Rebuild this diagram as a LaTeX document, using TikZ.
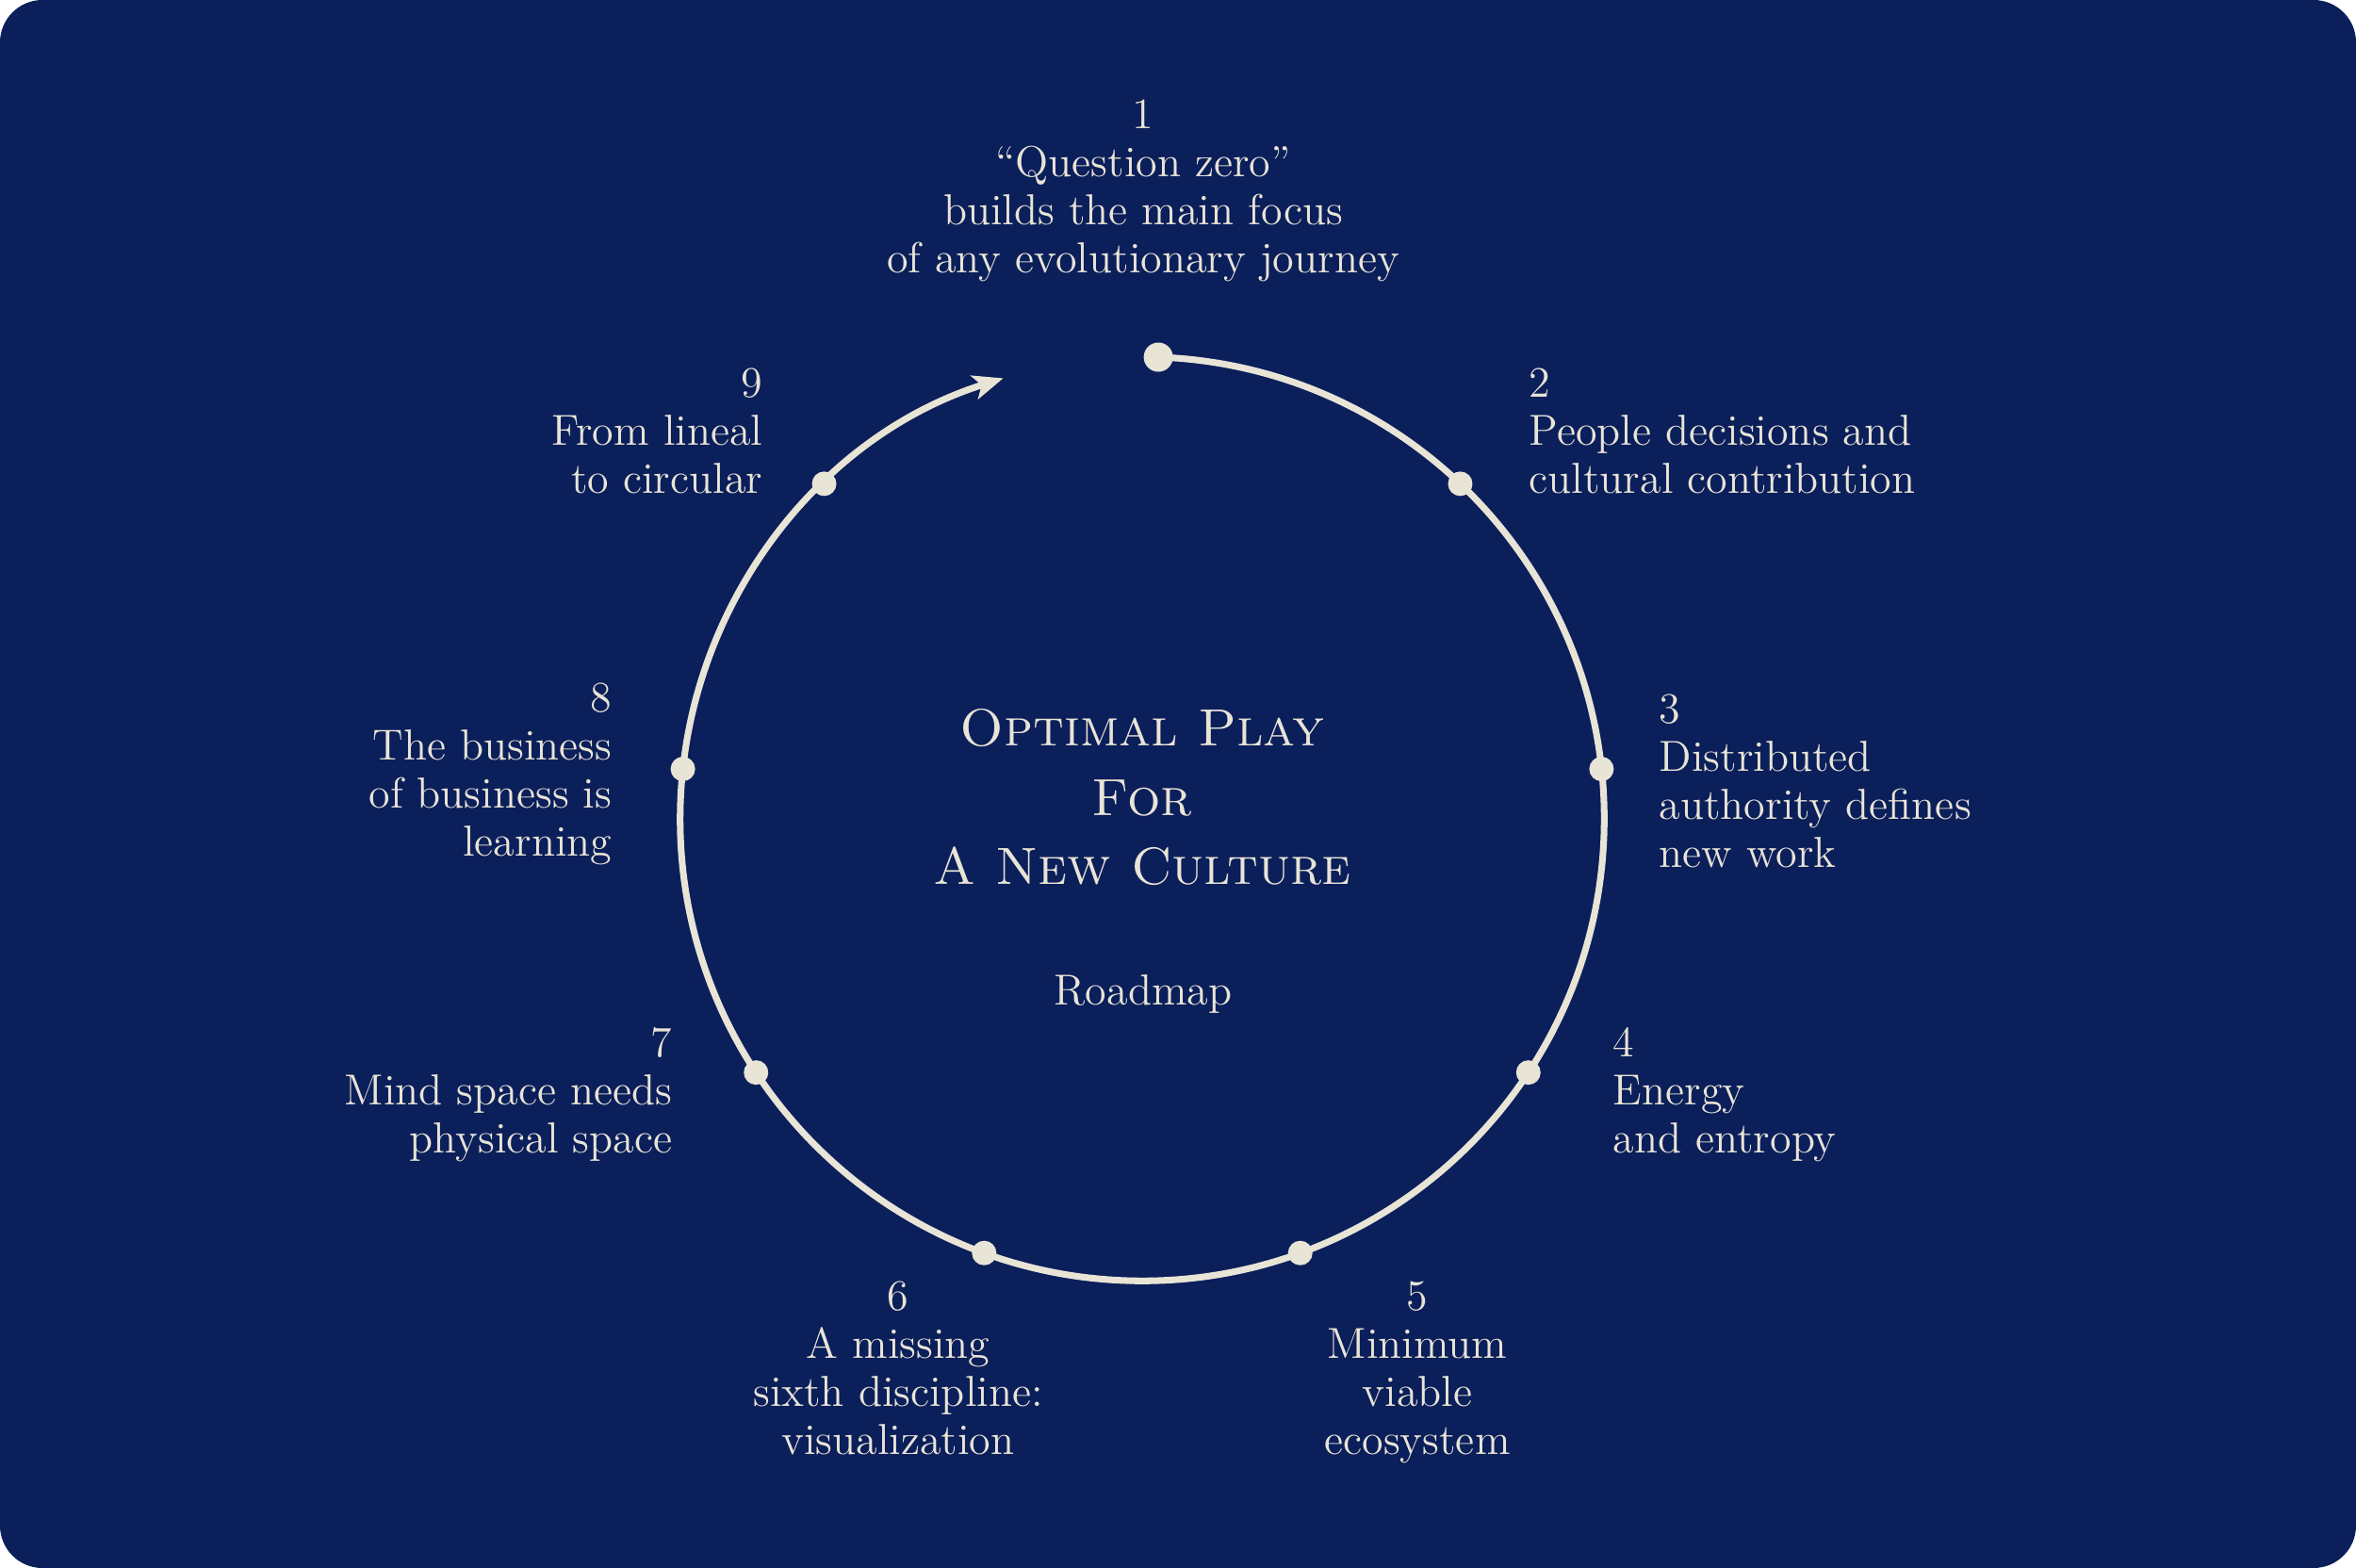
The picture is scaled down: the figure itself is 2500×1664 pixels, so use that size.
\documentclass[tikz,border=0pt]{standalone}
\usetikzlibrary{arrows.meta,calc}
\definecolor{navy}{RGB}{11,31,91}
\definecolor{cream}{RGB}{232,228,214}
\begin{document}
\begin{tikzpicture}[x=0.01cm,y=-0.01cm,
  lbl/.style={text=cream, inner sep=0pt, font=\fontsize{13.1}{14.5}\selectfont},
  ttl/.style={text=cream, inner sep=0pt, align=center, font=\fontsize{15.8}{20.8}\selectfont\scshape},
  ring/.style={draw=cream, line width=2pt},
  dot/.style={circle, fill=cream, inner sep=0pt, minimum size=0.26cm},
  bigdot/.style={dot, minimum size=0.31cm}]
\fill[white] (0,0) rectangle (2500,1664);
\fill[navy, rounded corners=0.45cm] (0,0) rectangle (2500,1664);
\useasboundingbox (0,0) rectangle (2500,1664);
\coordinate (c) at (1212,869);
% ring with arrow
\node[bigdot] (d1) at ($(c)+(88:4.9cm)$) {};
\draw[ring, -{Stealth[length=0.32cm, width=0.26cm, inset=0.08cm]}] (d1.center) arc[start angle=88, end angle=-252.5, radius=4.9cm] coordinate (aend);
\node[dot] (d2) at ($(c)+(46.5:4.9cm)$) {};
\node[dot] (d3) at ($(c)+(6.2:4.9cm)$) {};
\node[dot] (d4) at ($(c)+(-33.3:4.9cm)$) {};
\node[dot] (d5) at ($(c)+(-70:4.9cm)$) {};
\node[dot] (d6) at ($(c)+(-110:4.9cm)$) {};
\node[dot] (d7) at ($(c)+(-146.7:4.9cm)$) {};
\node[dot] (d8) at ($(c)+(173.8:4.9cm)$) {};
\node[dot] (d9) at ($(c)+(133.5:4.9cm)$) {};
% labels
\node[lbl, anchor=north, align=center] (l1) at (1213,105) {1\\``Question zero''\\builds the main focus\\of any evolutionary journey};
\node[lbl, anchor=north west, align=left] (l2) at (1622,390) {2\\People decisions and\\cultural contribution};
\node[lbl, anchor=north west, align=left] (l3) at (1760,736) {3\\Distributed\\authority defines\\new work};
\node[lbl, anchor=north west, align=left] (l4) at (1711,1090) {4\\Energy\\and entropy};
\node[lbl, anchor=north, align=center] (l5) at (1504,1359) {5\\Minimum\\viable\\ecosystem};
\node[lbl, anchor=north, align=center] (l6) at (953,1359) {6\\A missing\\sixth discipline:\\visualization};
\node[lbl, anchor=north east, align=right] (l7) at (714,1090) {7\\Mind space needs\\physical space};
\node[lbl, anchor=north east, align=right] (l8) at (650,724) {8\\The business\\of business is\\learning};
\node[lbl, anchor=north east, align=right] (l9) at (810,390) {9\\From lineal\\to circular};
% centre
\node[ttl, anchor=north] (title) at (1212,752) {Optimal Play\\For\\A New Culture};
\node[lbl] (road) at (1213,1055) {Roadmap};
\end{tikzpicture}
\end{document}
